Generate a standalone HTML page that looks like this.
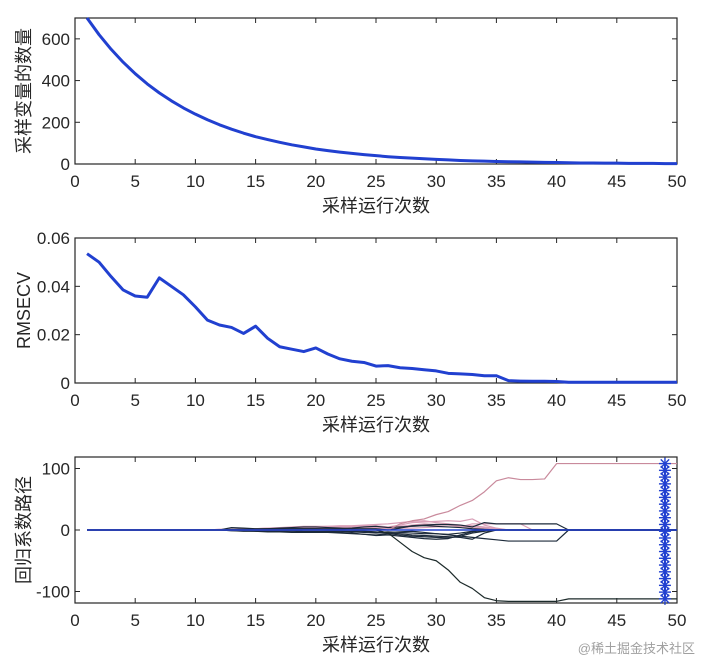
<!DOCTYPE html>
<html><head><meta charset="utf-8"><style>
body{margin:0;background:#fff;}
svg text{font-family:"Liberation Sans","Noto Sans CJK SC",sans-serif;fill:#262626;}
</style></head><body>
<svg id="c" width="701" height="662" xmlns="http://www.w3.org/2000/svg"></svg>
<script>
const xTicks=[0,5,10,15,20,25,30,35,40,45,50];
const nVars=[700,620,550,488,433,384,341,303,269,239,212,188,167,148,131,117,104,92,82,72,64,57,51,45,40,35,31,28,25,22,20,17,15,14,12,11,10,9,8,7,6,5,5,4,4,3,3,3,2,2];
const rmsecv=[.0535,.050,.044,.0385,.036,.0355,.0435,.040,.0365,.0315,.026,.024,.023,.0205,.0235,.0185,.015,.014,.013,.0145,.012,.010,.009,.0085,.007,.0072,.0063,.006,.0055,.005,.004,.0038,.0035,.003,.003,.001,.0008,.0007,.0007,.0006,.0003,.0003,.0003,.0003,.0003,.0003,.0003,.0003,.0003,.0003];
const pinkTop=[0,0,0,0,0,0,0,0,0,0,0,0,0,0,0,10,15,18,25,30,40,48,62,80,85,82,82,83,108,108];
const darkBottom=[0,0,0,0,0,0,0,0,0,0,0,0,0,0,-5,-20,-35,-45,-50,-65,-85,-95,-110,-115,-116,-116,-116,-116,-116,-112];
const pinkPaths=[
[1,1,2,2,3,4,5,6,6,6,7,7,8,9,10,12,14,15,12,10,8,6,4,2,0,0,0,0,0,0],
[1,1,1,2,3,3,4,5,5,6,6,6,7,7,5,8,12,13,14,15,14,18,8,3,0,0,0,0,0,0],
[0,1,1,2,2,3,3,4,4,5,5,5,6,6,4,6,8,10,9,8,6,4,2,1,0,0,0,0,0,0],
[0,0,1,1,2,2,3,3,4,4,4,5,5,5,3,4,6,7,8,8,7,7,5,2,0,0,0,0,0,0],
[0,0,0,1,1,2,2,2,3,3,3,4,4,4,2,3,3,4,5,5,5,10,10,10,10,10,0,0,0,0]];
const darkPaths=[
[0,4,3,2,2,3,4,5,5,4,3,2,2,2,0,3,7,8,9,9,8,5,12,10,10,10,10,10,10,0],
[0,-1,-2,-2,-3,-3,-4,-4,-3,-2,-2,-2,-2,-3,-5,-6,-8,-9,-10,-11,-12,-15,-5,0,0,0,0,0,0,0],
[0,-1,-1,-2,-2,-3,-3,-4,-4,-4,-5,-6,-7,-8,-6,-8,-10,-11,-12,-13,-10,-5,-2,0,0,0,0,0,0,0],
[0,0,-1,-1,-2,-2,-3,-3,-3,-3,-4,-5,-7,-9,-8,-10,-12,-14,-15,-14,-8,-3,0,0,0,0,0,0,0,0],
[0,1,1,1,2,2,2,2,2,1,1,0,-2,-4,-3,-4,-5,-6,-6,-7,-5,-2,-1,0,0,0,0,0,0,0],
[0,0,0,1,1,1,2,2,2,2,2,3,5,6,4,5,6,7,6,5,4,2,1,0,0,0,0,0,0,0],
[0,0,0,0,-1,-1,-1,-2,-2,-2,-2,-3,-4,-5,-4,-3,-2,-4,-6,-8,-10,-12,-14,-16,-18,-18,-18,-18,-18,0]];
const coefTicks=[-100,0,100];
const starVals=[-112,-101,-90,-79,-68,-57,-46,-35,-24,-13,-2,9,20,31,42,53,64,75,86,97,108];

const svg=document.getElementById('c');
const NS='http://www.w3.org/2000/svg';
function el(tag,attrs,parent){const e=document.createElementNS(NS,tag);for(const k in attrs)e.setAttribute(k,attrs[k]);(parent||svg).appendChild(e);return e;}
const X0=75,X1=677;
const sx=v=>X0+(X1-X0)*v/50;
function axes(top,bot,ymin,ymax,yticks,ylab,name,yfmt){
  const g=el('g',{});
  
  
  const sy=v=>bot-(bot-top)*(v-ymin)/(ymax-ymin);
  el('rect',{x:X0,y:top,width:X1-X0,height:bot-top,fill:'none',stroke:'#262626','stroke-width':1.2},g);
  xTicks.forEach(t=>{const x=sx(t);
    el('line',{x1:x,x2:x,y1:bot,y2:bot-5,stroke:'#262626'},g);el('line',{x1:x,x2:x,y1:top,y2:top+5,stroke:'#262626'},g);
    const tx=el('text',{x:x,y:bot+23,'text-anchor':'middle','font-size':17},g);tx.textContent=t;
    
    });
  yticks.forEach(t=>{const y=sy(t);
    el('line',{x1:X0,x2:X0+5,y1:y,y2:y,stroke:'#262626'},g);el('line',{x1:X1,x2:X1-5,y1:y,y2:y,stroke:'#262626'},g);
    const tx=el('text',{x:X0-5,y:y+6,'text-anchor':'end','font-size':17},g);tx.textContent=yfmt?yfmt(t):t;
    
    });
  const xl=el('text',{x:376,y:bot+48,'text-anchor':'middle','font-size':18},g);xl.textContent='采样运行次数';
  
  
  const cy=(top+bot)/2;
  const yl=el('text',{x:0,y:0,'text-anchor':'middle','font-size':18,transform:`translate(30,${cy}) rotate(-90)`},g);yl.textContent=ylab;
  
  
  return sy;
}
function line(vals,sy,color,w,name,start){
  const pts=vals.map((v,i)=>sx(i+(start||1))+','+sy(v)).join(' ');
  const p=el('polyline',{points:pts,fill:'none',stroke:color,'stroke-width':w,'stroke-linejoin':'round'});
  
  
}
const sy1=axes(18,164,0,700,[0,200,400,600],'采样变量的数量','panel-variable-count');
line(nVars,sy1,'#2140d0',3,'variable-count-line');
const sy2=axes(238,383,0,0.06,[0,0.02,0.04,0.06],'RMSECV','panel-rmsecv',t=>t===0?'0':t.toFixed(2));
line(rmsecv,sy2,'#2140d0',3,'rmsecv-line');
const sy3=axes(457,603,-118.7,118.7,coefTicks,'回归系数路径','panel-coef-path');
function full(arr){const r=[];for(let i=1;i<=50;i++){if(i<12)r.push(0);else if(i<=41)r.push(arr[i-12]);else r.push(arr[29]);}return r;}
pinkPaths.forEach(a=>line(full(a),sy3,'#d9a0b8',1.2,'coef-path-pink'));
darkPaths.forEach(a=>line(full(a),sy3,'#1c2a3a',1.2,'coef-path-dark'));
line(full(pinkTop),sy3,'#c98a9c',1.2,'coef-path-top');
line(full(darkBottom),sy3,'#1c2a2a',1.2,'coef-path-bottom');
line(new Array(50).fill(0),sy3,'#2140d0',1.5,'zero-line');
el('line',{x1:sx(49),x2:sx(49),y1:sy3(-112),y2:sy3(108),stroke:'#2140d0','stroke-width':2});
starVals.forEach(v=>{
  const x=sx(49),y=sy3(v),s=6;
  const g=el('g',{stroke:'#2140d0','stroke-width':1.4});
  
  
  el('line',{x1:x-s,x2:x+s,y1:y,y2:y},g);el('line',{x1:x,x2:x,y1:y-s,y2:y+s},g);
  el('line',{x1:x-s*.7,x2:x+s*.7,y1:y-s*.7,y2:y+s*.7},g);el('line',{x1:x-s*.7,x2:x+s*.7,y1:y+s*.7,y2:y-s*.7},g);
});
const wm=el('text',{x:695,y:653,'text-anchor':'end','font-size':13,style:'fill:#a0a0a0'});
wm.textContent='@稀土掘金技术社区';


</script>
</body></html>
